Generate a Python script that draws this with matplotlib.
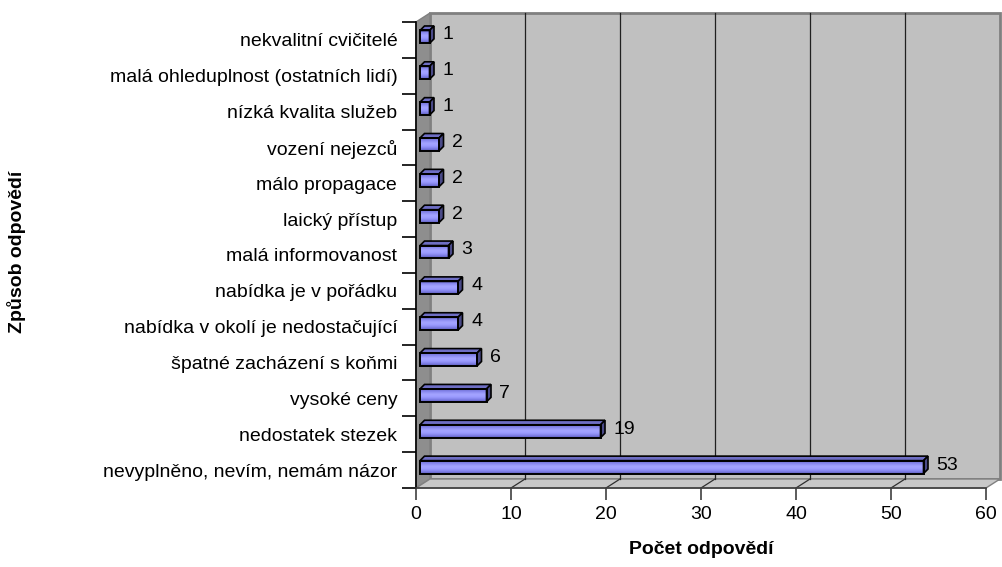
import numpy as np
import matplotlib
matplotlib.use("Agg")
import matplotlib.pyplot as plt
from matplotlib.patches import Polygon
from matplotlib.colors import LinearSegmentedColormap

# ---------------- data ----------------
categories = [
    "nevyplněno, nevím, nemám názor",
    "nedostatek stezek",
    "vysoké ceny",
    "špatné zacházení s koňmi",
    "nabídka v okolí je nedostačující",
    "nabídka je v pořádku",
    "malá informovanost",
    "laický přístup",
    "málo propagace",
    "vození nejezců",
    "nízká kvalita služeb",
    "malá ohleduplnost (ostatních lidí)",
    "nekvalitní cvičitelé",
]
values = [53, 19, 7, 6, 4, 4, 3, 2, 2, 2, 1, 1, 1]
x_ticks = [0, 10, 20, 30, 40, 50, 60]
x_label = "Počet odpovědí"
y_label = "Způsob odpovědí"

# ---------------- style ----------------
plt.rcParams["font.family"] = ["Liberation Sans", "DejaVu Sans"]
FS = 14

W, H = 1002, 567
fig = plt.figure(figsize=(W / 100, H / 100), dpi=100)
fig.patch.set_facecolor("white")

# front plane of the 3D box
ax = fig.add_axes([416 / W, 1 - 488 / H, 570 / W, 466 / H])
n = len(categories)
ax.set_xlim(x_ticks[0], x_ticks[-1])
ax.set_ylim(-0.5, n - 0.5)
ax.patch.set_visible(False)

# pixel -> data offsets
ux = (x_ticks[-1] - x_ticks[0]) / 570.0
uy = n / 466.0


def off(x, y, px, py):
    return (x + px * ux, y + py * uy)


DEPTH = (14, 9)
x0, x1 = x_ticks[0], x_ticks[-1]
y0, y1 = -0.5, n - 0.5

# back wall
ax.add_patch(Polygon([off(x0, y0, *DEPTH), off(x1, y0, *DEPTH), off(x1, y1, *DEPTH),
                      off(x0, y1, *DEPTH)], closed=True, facecolor="#C0C0C0",
                     edgecolor="#808080", lw=2.0, clip_on=False, zorder=0.2))
# side wall
ax.add_patch(Polygon([(x0, y0), (x0, y1), off(x0, y1, *DEPTH), off(x0, y0, *DEPTH)],
                     closed=True, facecolor="#8E8E8E", edgecolor="#808080", lw=1.0,
                     clip_on=False, zorder=0.3))
# floor
ax.add_patch(Polygon([(x0, y0), (x1, y0), off(x1, y0, *DEPTH), off(x0, y0, *DEPTH)],
                     closed=True, facecolor="#C8C8C8", edgecolor="#808080", lw=1.0,
                     clip_on=False, zorder=0.3))

# gridlines on back wall and floor
for t in x_ticks[1:-1]:
    bx0, by0 = off(t, y0, *DEPTH)
    bx1, by1 = off(t, y1, *DEPTH)
    ax.plot([bx0, bx1], [by0, by1], color="#202020", lw=0.9, zorder=0.4, clip_on=False)
    ax.plot([t, bx0], [y0, by0], color="#303030", lw=0.9, zorder=0.4, clip_on=False)

# bars
bar_h = 0.36
FRONT = (4, 3)
BACK = (8.5, 7.5)
front_cmap = LinearSegmentedColormap.from_list(
    "front", ["#5A5AB4", "#8080E8", "#9C9CFF", "#A4A4FF", "#8A8AF0", "#6C6CCC"])

for i, v in enumerate(values):
    fl, fb = off(0, i - bar_h / 2, *FRONT)
    fr, ft = off(v, i + bar_h / 2, *FRONT)
    bl, bb = off(0, i - bar_h / 2, *BACK)
    br, bt = off(v, i + bar_h / 2, *BACK)
    front = Polygon([(fl, fb), (fr, fb), (fr, ft), (fl, ft)], closed=True,
                    facecolor="none", edgecolor="black", lw=1.4, zorder=3)
    ax.add_patch(front)
    grad = np.linspace(0, 1, 64).reshape(-1, 1)
    im = ax.imshow(grad, cmap=front_cmap, aspect="auto", extent=(fl, fr, fb, ft),
                   origin="lower", zorder=2.5, interpolation="bilinear")
    clip = Polygon([(fl, fb), (fr, fb), (fr, ft), (fl, ft)], closed=True,
                   transform=ax.transData, visible=False)
    ax.add_patch(clip)
    im.set_clip_path(clip)
    # top face
    ax.add_patch(Polygon([(fl, ft), (fr, ft), (br, bt), (bl, bt)], closed=True,
                         facecolor="#6E6EC4", edgecolor="black", lw=1.2, zorder=2.8,
                         clip_on=False))
    # right face
    ax.add_patch(Polygon([(fr, fb), (fr, ft), (br, bt), (br, bb)], closed=True,
                         facecolor="#4A4A88", edgecolor="black", lw=1.2, zorder=2.8,
                         clip_on=False))
    # value label
    ax.annotate(str(v), xy=(fr, i), xytext=(13, 5), textcoords="offset pixels",
                ha="left", va="center", fontsize=FS, color="black", zorder=4,
                annotation_clip=False)

ax.set_xlim(x0, x1)
ax.set_ylim(y0, y1)

# spines
for s in ["top", "right"]:
    ax.spines[s].set_visible(False)
ax.spines["left"].set_color("black")
ax.spines["left"].set_linewidth(1.2)
ax.spines["bottom"].set_color("#404040")
ax.spines["bottom"].set_linewidth(1.2)
ax.spines["left"].set_zorder(3.5)
ax.spines["bottom"].set_zorder(3.5)

# ticks
ax.set_xticks(x_ticks)
ax.set_xticklabels([str(t) for t in x_ticks], fontsize=FS)
ax.tick_params(axis="x", direction="out", length=8.6, width=1.2, color="#404040",
               pad=4.5)
ax.set_yticks(np.arange(-0.5, n, 1.0))
ax.set_yticklabels([])
ax.tick_params(axis="y", which="major", direction="out", length=10, width=1.2,
               color="black")
ax.set_yticks(np.arange(n), minor=True)
ax.set_yticklabels(categories, minor=True, fontsize=FS)
ax.tick_params(axis="y", which="minor", length=0, pad=13.5)

# axis titles
fig.text(701 / W, 1 - 550 / H, x_label, ha="center", va="center", fontsize=FS,
         fontweight="bold")
fig.text(17 / W, 1 - 252 / H, y_label, ha="center", va="center", fontsize=FS,
         fontweight="bold", rotation=90)

fig.savefig("out.png", dpi=100)
